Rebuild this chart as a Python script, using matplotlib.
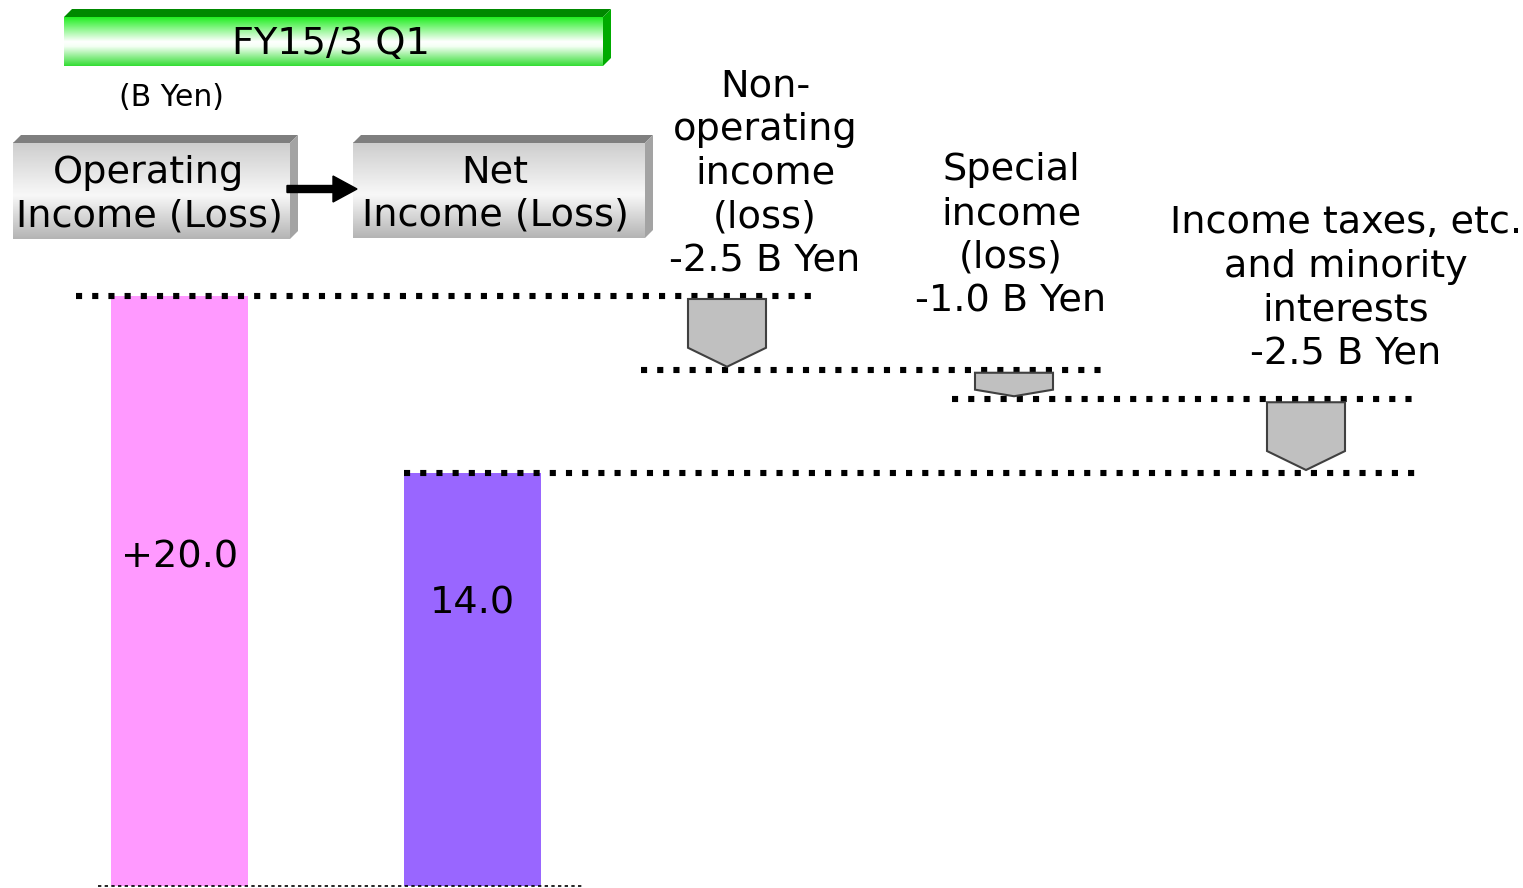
import numpy as np
import matplotlib
matplotlib.use("Agg")
import matplotlib.pyplot as plt
from matplotlib.patches import Polygon, FancyArrow

# Veriler (milyar yen)
operating_income = 20.0
step_names = ["Non-\noperating\nincome\n(loss)", "Special\nincome\n(loss)",
              "Income taxes, etc.\nand minority\ninterests"]
step_deltas = [-2.5, -1.0, -2.5]
net_income = 14.0
period_label = "FY15/3 Q1"
unit_label = "(B Yen)"
bar_titles = ["Operating\nIncome (Loss)", "Net\nIncome (Loss)"]

levels = [operating_income]
for d in step_deltas:
    levels.append(levels[-1] + d)

W, H = 1523, 888
fig = plt.figure(figsize=(W / 100, H / 100), dpi=100)
plt.rcParams["font.family"] = ["DejaVu Sans"]
big = 27.5
ls = 1.28

# dekorasyon eksenleri (piksel koordinatlari, y asagi)
deco = fig.add_axes([0, 0, 1, 1], zorder=1)
deco.set_axis_off()

# veri ekseni: 0 -> 886 px, 20 -> 296 px
px_per_unit = 29.5
ax = fig.add_axes([0, 0, 1, 1], zorder=2)
ax.patch.set_alpha(0)
ax.set_axis_off()
ax.set_xlim(0, W)
ax.set_ylim(-(H - 886) / px_per_unit, 886 / px_per_unit)


def box3d(x0, x1, y0, y1, depth, grad, top_col, side_col):
    n = 200
    t = np.linspace(0, 1, n)
    stops = [s for s, _ in grad]
    cols = np.array([matplotlib.colors.to_rgb(c) for _, c in grad])
    img = np.stack([np.interp(t, stops, cols[:, k]) for k in range(3)], axis=1)
    img = img[:, None, :]
    deco.imshow(img, extent=(x0, x1, y1, y0), origin="upper", aspect="auto", zorder=2)
    deco.add_patch(Polygon([(x0, y0), (x0 + depth, y0 - depth), (x1 + depth, y0 - depth), (x1, y0)],
                           closed=True, facecolor=top_col, edgecolor="none", zorder=3))
    deco.add_patch(Polygon([(x1, y0), (x1 + depth, y0 - depth), (x1 + depth, y1 - depth), (x1, y1)],
                           closed=True, facecolor=side_col, edgecolor="none", zorder=3))


green_grad = [(0, "#22ee22"), (0.5, "#ffffff"), (0.6, "#f4fff4"), (1, "#33dd33")]
gray_grad = [(0, "#cdcdcd"), (0.55, "#f8f8f8"), (1, "#b4b4b4")]

box3d(64, 603, 17, 66, 8, green_grad, "#008800", "#00aa00")
deco.text(331, 44, period_label, ha="center", va="center", fontsize=27.5)
deco.text(171, 97, unit_label, ha="center", va="center", fontsize=21.5)

box3d(13, 290, 143, 239, 8, gray_grad, "#7f7f7f", "#a3a3a3")
box3d(353, 645, 143, 238, 8, gray_grad, "#7f7f7f", "#a3a3a3")
deco.text(149, 195, bar_titles[0], ha="center", va="center", fontsize=big,
          multialignment="center", linespacing=ls, zorder=5)
deco.text(495, 194, bar_titles[1], ha="center", va="center", fontsize=big,
          multialignment="center", linespacing=ls, zorder=5)
deco.add_patch(FancyArrow(287, 189, 46, 0, width=7, head_width=26, head_length=24,
                          length_includes_head=False, color="black", zorder=6))

deco.set_xlim(0, W)
deco.set_ylim(H, 0)

# cubuklar
bar_x = [179.5, 472.5]
bar_w = 137
ax.bar(bar_x[0], operating_income, width=bar_w, color="#ff99ff", zorder=2)
ax.bar(bar_x[1], net_income, width=bar_w, color="#9966ff", zorder=2)
ax.text(180, 557, f"{operating_income:+.1f}", ha="center", va="center", fontsize=big,
        transform=deco.transData, zorder=5)
ax.text(472, 603, f"{net_income:.1f}", ha="center", va="center", fontsize=big,
        transform=deco.transData, zorder=5)

# noktali seviye cizgileri
dot_style = dict(color="black", lw=4.4, linestyle=(0, (1, 1.65)), dash_capstyle="butt", zorder=3)
line_spans = [(76, 820), (641, 1105), (952, 1416), (404, 1416)]
for lvl, (xa, xb) in zip(levels, line_spans):
    ax.plot([xa, xb], [lvl, lvl], **dot_style)
ax.plot([98, 583], [0, 0], color="black", lw=1.2, linestyle=(0, (2, 2)), zorder=3)

# gri asagi oklar
arrow_x = [727, 1014, 1306]
arrow_w = 78
gap = 3 / px_per_unit
for cx, top, bot in zip(arrow_x, levels[:-1], levels[1:]):
    yt = top - gap
    yb = bot + gap
    ys = yb + (yt - yb) * 0.28
    pts = [(cx - arrow_w / 2, yt), (cx + arrow_w / 2, yt), (cx + arrow_w / 2, ys),
           (cx, yb), (cx - arrow_w / 2, ys)]
    ax.add_patch(Polygon(pts, closed=True, facecolor="#c0c0c0", edgecolor="#404040",
                         lw=1.5, zorder=4))

# adim aciklamalari
note_pos = [(765, 174), (1011, 236), (1346, 289)]
for (tx, ty), name, d in zip(note_pos, step_names, step_deltas):
    deco.text(tx, ty, f"{name}\n{d:.1f} B Yen", ha="center", va="center", fontsize=big,
              multialignment="center", linespacing=ls, zorder=5)

fig.savefig("out.png", dpi=100)
